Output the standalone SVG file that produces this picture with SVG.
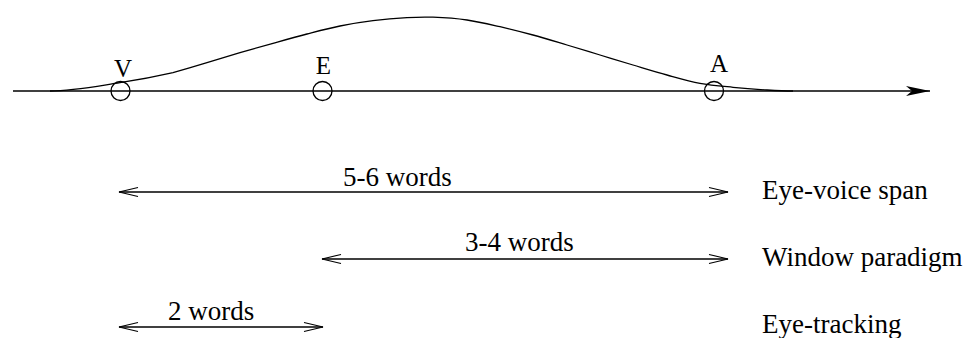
<svg xmlns="http://www.w3.org/2000/svg" width="965" height="338" viewBox="0 0 965 338">
<style>
.ln{stroke:#000;stroke-width:1.3;fill:none}
.t{font-family:"Liberation Serif","Times New Roman",serif;font-size:27px;fill:#000}
.lbl{font-family:"Liberation Serif","Times New Roman",serif;font-size:25px;fill:#000;text-anchor:middle}
</style>
<defs>
<marker id="open" markerUnits="userSpaceOnUse" markerWidth="22" markerHeight="12" refX="19" refY="5" orient="auto-start-reverse" overflow="visible">
<path d="M0,0.5 L19,5 L0,9.5" fill="none" stroke="#000" stroke-width="1.2"/>
</marker>
<marker id="solid" markerUnits="userSpaceOnUse" markerWidth="26" markerHeight="12" refX="24" refY="5" orient="auto" overflow="visible">
<path d="M0,0 L24,5 L0,10 L6,5 Z" fill="#000"/>
</marker>
</defs>
<rect width="965" height="338" fill="#fff"/>
<g id="connectors">
<line id="axis" class="ln" x1="13" y1="91" x2="930" y2="91" marker-end="url(#solid)"/>
<path id="curve" class="ln" d="M50,91 C73.3,91 99.5,85.75 120,82.7 C140.5,79.65 158.5,76.03 173,72.7 C184.2,69.37 195.83,66.03 207,62.7 C218,59.47 229,55.93 240,52.7 C251,49.47 261.83,46.42 273,43.3 C284.17,40.18 295.83,36.88 307,34 C318.17,31.12 329,28.22 340,26 C351,23.78 361.83,22.1 373,20.7 C384,19.3 397,18.18 407,17.6 C417,17.02 423,16.8 433,17.2 C443,17.6 455.83,18.42 467,20 C478.17,21.58 489,24.2 500,26.7 C511,29.2 521.83,31.95 533,35 C544.17,38.05 555.83,41.67 567,45 C578.17,48.33 589,51.67 600,55 C611,58.33 621.83,61.67 633,65 C644.17,68.33 655.83,71.95 667,75 C678.17,78.05 689,81.25 700,83.3 C711,85.35 721.83,86.18 733,87.3 C744.17,88.42 757,89.38 767,90 C777,90.62 784.3,91 793,91"/>
<line id="span1" class="ln" x1="119" y1="192" x2="728" y2="192" marker-start="url(#open)" marker-end="url(#open)"/>
<line id="span2" class="ln" x1="322" y1="259" x2="728" y2="259" marker-start="url(#open)" marker-end="url(#open)"/>
<line id="span3" class="ln" x1="119" y1="327" x2="323" y2="327" marker-start="url(#open)" marker-end="url(#open)"/>
</g>
<g id="node-V">
<circle class="ln" cx="120.5" cy="91" r="9.5"/>
<text class="lbl" x="123" y="77">V</text>
</g>
<g id="node-E">
<circle class="ln" cx="322.5" cy="91" r="9.5"/>
<text class="lbl" x="323.5" y="74">E</text>
</g>
<g id="node-A">
<circle class="ln" cx="714" cy="91" r="9.5"/>
<text class="lbl" x="719" y="72">A</text>
</g>
<g id="label-span1">
<text class="t" x="343" y="186">5-6 words</text>
<text class="t" x="762" y="199">Eye-voice span</text>
</g>
<g id="label-span2">
<text class="t" x="465" y="251">3-4 words</text>
<text class="t" x="762" y="266">Window paradigm</text>
</g>
<g id="label-span3">
<text class="t" x="168" y="320">2 words</text>
<text class="t" x="762" y="333">Eye-tracking</text>
</g>
</svg>
